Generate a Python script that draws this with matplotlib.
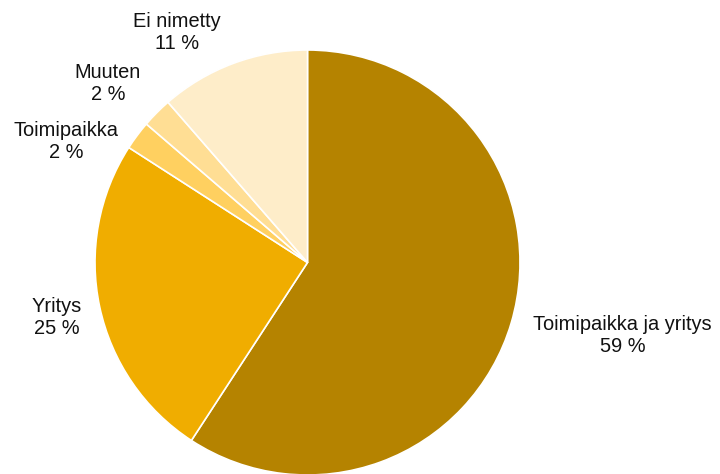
import matplotlib.pyplot as plt

# osuudet, myötäpäivään ylhäältä alkaen
labels = ["Toimipaikka ja yritys", "Yritys", "Toimipaikka", "Muuten", "Ei nimetty"]
shares = [59.2, 24.9, 2.2, 2.3, 11.4]
colors = ["#B58300", "#F0AD00", "#FFD060", "#FFDE94", "#FEEDC9"]

# tekstien paikat (säteen yksiköissä keskipisteestä)
label_pos = [(1.482, -0.344), (-1.179, -0.259), (-1.136, 0.569),
             (-0.939, 0.842), (-0.614, 1.082)]

plt.rcParams['font.family'] = ['Liberation Sans', 'DejaVu Sans']

fig = plt.figure(figsize=(7.2, 4.74), dpi=100)
ax = fig.add_axes([0, 0, 1, 1])
ax.pie(shares, colors=colors, startangle=90, counterclock=False,
       wedgeprops=dict(edgecolor="white", linewidth=1.2))

for name, val, (x, y) in zip(labels, shares, label_pos):
    ax.text(x, y, "{}\n{:.0f} %".format(name, val), ha="center", va="center",
            fontsize=14.4, color="#111111", linespacing=1.2)

R = 212.5
ax.set_xlim(-307.5 / R, (720 - 307.5) / R)
ax.set_ylim(-(474 - 262.5) / R, 262.5 / R)
ax.set_aspect("auto")
ax.axis("off")

fig.savefig("out.png", dpi=100)
